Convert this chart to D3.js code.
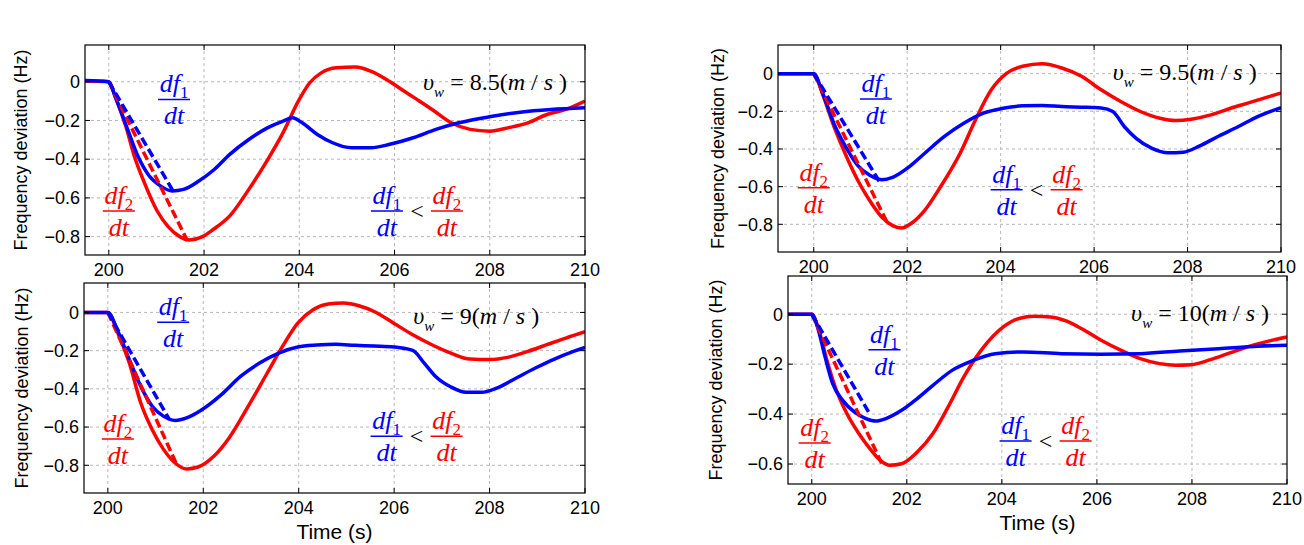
<!DOCTYPE html>
<html>
<head>
<meta charset="utf-8">
<title>Frequency deviation for four wind speeds</title>
<script src="https://d3js.org/d3.v7.min.js"></script>
<style>
  body { margin: 0; background: #fff; }
  svg { display: block; background: #fff; }
  .tickLabel { font-family: Arial, "Liberation Sans", sans-serif; font-size: 18px; fill: #000; }
  .axisTitle { font-family: Arial, "Liberation Sans", sans-serif; fill: #000; }
  .math { font-family: "Times New Roman", "Liberation Serif", serif; }
  .grid { stroke: #b8b8b8; stroke-width: 1; stroke-dasharray: 3,3; }
  .frame { fill: none; stroke: #000; stroke-width: 1.2; }
</style>
</head>
<body>
<svg id="chart" width="1304" height="545"></svg>
<script>
// ---- data ----
const windSpeeds = ["8.5", "9", "9.5", "10"];
const timeTicks = [200, 202, 204, 206, 208, 210];
const devTicks = [
  [0, -0.2, -0.4, -0.6, -0.8],
  [0, -0.2, -0.4, -0.6, -0.8],
  [0, -0.2, -0.4, -0.6, -0.8],
  [0, -0.2, -0.4, -0.6]
];
const timeDomains = [[199.5, 210], [199.5, 210], [199.235, 210], [199.5, 210]];
const devDomains = [[-0.895, 0.19], [-0.945, 0.154], [-0.947, 0.152], [-0.68, 0.153]];

// blue = df1/dt case, red = df2/dt case; [time (s), deviation (Hz)]
const blue85 = [[199.5,0.006],[200,0],[200.13,-0.074],[200.37,-0.229],[200.61,-0.384],[200.85,-0.487],
  [201.09,-0.539],[201.33,-0.564],[201.57,-0.556],[201.89,-0.513],[202.22,-0.452],[202.54,-0.375],
  [202.94,-0.298],[203.34,-0.237],[203.66,-0.203],[203.86,-0.186],[204.06,-0.212],[204.38,-0.272],
  [204.7,-0.315],[205.1,-0.341],[205.5,-0.341],[205.9,-0.323],[206.39,-0.289],[206.87,-0.246],
  [207.35,-0.212],[207.99,-0.181],[208.64,-0.157],[209.28,-0.143],[210,-0.134]];
const red85 = [[199.5,0.004],[200,0],[200.13,-0.074],[200.37,-0.24],[200.53,-0.38],[200.77,-0.535],
  [201.01,-0.665],[201.25,-0.75],[201.49,-0.8],[201.69,-0.817],[201.97,-0.8],[202.2,-0.762],
  [202.54,-0.693],[202.94,-0.556],[203.34,-0.401],[203.66,-0.263],[203.98,-0.1],[204.22,-0.005],
  [204.46,0.046],[204.78,0.072],[205.18,0.076],[205.5,0.055],[205.83,0.012],[206.15,-0.04],
  [206.47,-0.091],[206.79,-0.143],[207.19,-0.212],[207.59,-0.246],[208,-0.255],[208.4,-0.237],
  [208.8,-0.212],[209.2,-0.169],[209.6,-0.143],[210,-0.1]];
const blueSlope85 = [[200,0],[201.37,-0.573]];
const redSlope85 = [[200,0],[201.65,-0.822]];

const blue9 = [[199.5,0],[200,0],[200.21,-0.099],[200.45,-0.247],[200.69,-0.387],[200.93,-0.491],
  [201.17,-0.544],[201.41,-0.565],[201.65,-0.552],[201.97,-0.509],[202.38,-0.43],[202.78,-0.335],
  [203.18,-0.265],[203.58,-0.213],[203.98,-0.181],[204.38,-0.171],[204.78,-0.167],[205.18,-0.172],
  [205.58,-0.176],[205.99,-0.181],[206.39,-0.199],[206.63,-0.265],[206.87,-0.335],[207.19,-0.39],
  [207.51,-0.418],[207.83,-0.418],[208.15,-0.396],[208.56,-0.343],[208.96,-0.291],[209.36,-0.244],
  [209.76,-0.204],[210,-0.183]];
const red9 = [[199.5,0],[200,0],[200.21,-0.108],[200.45,-0.265],[200.69,-0.474],[200.93,-0.614],
  [201.17,-0.718],[201.41,-0.788],[201.65,-0.819],[201.89,-0.809],[202.22,-0.753],[202.54,-0.657],
  [202.94,-0.492],[203.34,-0.317],[203.66,-0.178],[203.98,-0.056],[204.3,0.014],[204.62,0.044],
  [204.94,0.049],[205.26,0.035],[205.58,0.005],[205.99,-0.056],[206.39,-0.117],[206.79,-0.169],
  [207.19,-0.213],[207.59,-0.244],[208,-0.247],[208.4,-0.234],[208.8,-0.204],[209.2,-0.169],
  [209.6,-0.134],[210,-0.101]];
const blueSlope9 = [[200,0],[201.29,-0.561]];
const redSlope9 = [[200,0],[201.45,-0.8]];

const blue95 = [[199.235,0],[200,0],[200.19,-0.103],[200.44,-0.27],[200.7,-0.395],[200.95,-0.49],
  [201.2,-0.54],[201.45,-0.563],[201.7,-0.549],[202.04,-0.495],[202.37,-0.424],[202.79,-0.335],
  [203.21,-0.264],[203.63,-0.21],[204.05,-0.184],[204.47,-0.171],[204.89,-0.169],[205.31,-0.175],
  [205.73,-0.178],[206.15,-0.182],[206.4,-0.201],[206.65,-0.282],[206.9,-0.344],[207.24,-0.397],
  [207.58,-0.42],[207.91,-0.417],[208.25,-0.385],[208.67,-0.331],[209.09,-0.281],[209.5,-0.228],
  [210,-0.18]];
const red95 = [[199.235,0],[200,0],[200.19,-0.11],[200.44,-0.285],[200.7,-0.44],[200.95,-0.57],
  [201.2,-0.675],[201.45,-0.76],[201.7,-0.808],[201.87,-0.82],[202.12,-0.789],[202.37,-0.727],
  [202.71,-0.602],[203.13,-0.424],[203.46,-0.246],[203.8,-0.086],[204.14,0.004],[204.47,0.039],
  [204.89,0.052],[205.31,0.03],[205.73,-0.014],[206.15,-0.086],[206.57,-0.148],[206.99,-0.201],
  [207.41,-0.237],[207.74,-0.249],[208.08,-0.242],[208.5,-0.219],[208.92,-0.184],[209.34,-0.153],
  [209.76,-0.121],[210,-0.103]];
const blueSlope95 = [[200,0],[201.41,-0.575]];
const redSlope95 = [[200,0],[201.58,-0.795]];

const blue10 = [[199.5,0],[200,0],[200.12,-0.051],[200.28,-0.171],[200.44,-0.278],[200.65,-0.345],
  [200.9,-0.392],[201.14,-0.418],[201.35,-0.428],[201.56,-0.418],[201.89,-0.385],[202.22,-0.338],
  [202.55,-0.285],[202.96,-0.224],[203.37,-0.187],[203.86,-0.158],[204.44,-0.151],[205.26,-0.158],
  [206.09,-0.16],[206.91,-0.158],[207.74,-0.147],[208.56,-0.138],[209.39,-0.128],[210,-0.124]];
const red10 = [[199.5,0],[200,0],[200.16,-0.07],[200.32,-0.185],[200.49,-0.29],[200.73,-0.395],
  [200.98,-0.475],[201.23,-0.54],[201.47,-0.59],[201.64,-0.605],[201.89,-0.599],[202.22,-0.552],
  [202.55,-0.478],[202.87,-0.371],[203.2,-0.251],[203.62,-0.131],[204.03,-0.051],[204.36,-0.017],
  [204.69,-0.008],[205.02,-0.011],[205.35,-0.027],[205.68,-0.058],[206.09,-0.104],[206.5,-0.144],
  [206.91,-0.178],[207.32,-0.198],[207.65,-0.204],[207.98,-0.202],[208.39,-0.182],[208.8,-0.155],
  [209.22,-0.128],[209.63,-0.107],[210,-0.091]];
const blueSlope10 = [[200,0],[201.23,-0.403]];
const redSlope10 = [[200,0],[201.47,-0.597]];

const blueSeries = [blue85, blue9, blue95, blue10];
const redSeries = [red85, red9, red95, red10];
const blueSlopes = [blueSlope85, blueSlope9, blueSlope95, blueSlope10];
const redSlopes = [redSlope85, redSlope9, redSlope95, redSlope10];

// ---- layout (pixels) ----
const frames = [
  { left: 85, top: 45, right: 585, bottom: 255, yTitleX: 21, xTitle: false },
  { left: 84, top: 283, right: 585, bottom: 493, yTitleX: 22, xTitle: true },
  { left: 778, top: 45, right: 1281, bottom: 252, yTitleX: 718, xTitle: false },
  { left: 788, top: 276, right: 1287, bottom: 484, yTitleX: 716, xTitle: true }
];
// annotation anchors in data units: [time, deviation]
const blueLabelAt = [[201.37, -0.091], [201.37, -0.051], [201.33, -0.135], [201.53, -0.142]];
const redLabelAt = [[200.21, -0.668], [200.21, -0.662], [200.0, -0.606], [200.06, -0.516]];
const compareAt = [[206.47, -0.668], [206.47, -0.648], [204.77, -0.616], [204.92, -0.508]];
const speedAt = [[206.6, 0], [206.4, -0.02], [206.4, 0.007], [206.72, 0.003]];

const BLUE = "#0000ff", RED = "#ff0000";
const svg = d3.select("#chart");

function fraction(g, cx, cy, sub, color) {
  const grp = g.append("g").attr("class", "math").attr("fill", color);
  const num = grp.append("text")
    .attr("x", cx).attr("y", cy - 7)
    .attr("text-anchor", "middle")
    .style("font-size", "26px");
  num.append("tspan").style("font-style", "italic").text("df");
  num.append("tspan").style("font-size", "17px").attr("dy", 6).text(sub);
  grp.append("line")
    .attr("x1", cx - 16).attr("x2", cx + 16)
    .attr("y1", cy).attr("y2", cy)
    .attr("stroke", color).attr("stroke-width", 1.5);
  grp.append("text")
    .attr("x", cx).attr("y", cy + 25)
    .attr("text-anchor", "middle")
    .style("font-size", "26px").style("font-style", "italic")
    .text("dt");
}

frames.forEach(function(fr, i) {
  const x = d3.scaleLinear().domain(timeDomains[i]).range([fr.left, fr.right]);
  const y = d3.scaleLinear().domain(devDomains[i]).range([fr.bottom, fr.top]);
  const g = svg.append("g");

  // grid
  g.selectAll(".gx").data(timeTicks.filter(function(t) { return x(t) < fr.right - 1; }))
    .enter().append("line").attr("class", "grid")
    .attr("x1", function(d) { return x(d); }).attr("x2", function(d) { return x(d); })
    .attr("y1", fr.top).attr("y2", fr.bottom);
  g.selectAll(".gy").data(devTicks[i])
    .enter().append("line").attr("class", "grid")
    .attr("y1", function(d) { return y(d); }).attr("y2", function(d) { return y(d); })
    .attr("x1", fr.left).attr("x2", fr.right);

  // curves
  const smooth = d3.line().x(function(d) { return x(d[0]); }).y(function(d) { return y(d[1]); })
    .curve(d3.curveMonotoneX);
  const straight = d3.line().x(function(d) { return x(d[0]); }).y(function(d) { return y(d[1]); });
  const clipId = "clip" + i;
  svg.append("clipPath").attr("id", clipId).append("rect")
    .attr("x", fr.left).attr("y", fr.top)
    .attr("width", fr.right - fr.left).attr("height", fr.bottom - fr.top);
  const plot = g.append("g").attr("clip-path", "url(#" + clipId + ")");
  plot.append("path").attr("d", smooth(redSeries[i]))
    .attr("fill", "none").attr("stroke", RED).attr("stroke-width", 3.5);
  plot.append("path").attr("d", smooth(blueSeries[i]))
    .attr("fill", "none").attr("stroke", BLUE).attr("stroke-width", 3.5);
  plot.append("path").attr("d", straight(redSlopes[i]))
    .attr("fill", "none").attr("stroke", RED).attr("stroke-width", 3.5).attr("stroke-dasharray", "9,4");
  plot.append("path").attr("d", straight(blueSlopes[i]))
    .attr("fill", "none").attr("stroke", BLUE).attr("stroke-width", 3.5).attr("stroke-dasharray", "9,4");

  // frame and inward ticks
  g.append("rect").attr("class", "frame")
    .attr("x", fr.left).attr("y", fr.top)
    .attr("width", fr.right - fr.left).attr("height", fr.bottom - fr.top);
  timeTicks.forEach(function(t) {
    g.append("line").attr("x1", x(t)).attr("x2", x(t)).attr("y1", fr.bottom).attr("y2", fr.bottom - 5).attr("stroke", "#000");
    g.append("line").attr("x1", x(t)).attr("x2", x(t)).attr("y1", fr.top).attr("y2", fr.top + 5).attr("stroke", "#000");
  });
  devTicks[i].forEach(function(v) {
    g.append("line").attr("x1", fr.left).attr("x2", fr.left + 5).attr("y1", y(v)).attr("y2", y(v)).attr("stroke", "#000");
    g.append("line").attr("x1", fr.right).attr("x2", fr.right - 5).attr("y1", y(v)).attr("y2", y(v)).attr("stroke", "#000");
  });

  // tick labels
  g.selectAll(".xl").data(timeTicks).enter().append("text").attr("class", "tickLabel")
    .attr("x", function(d) { return x(d); }).attr("y", fr.bottom + 21)
    .attr("text-anchor", "middle").text(function(d) { return d; });
  g.selectAll(".yl").data(devTicks[i]).enter().append("text").attr("class", "tickLabel")
    .attr("x", fr.left - 5).attr("y", function(d) { return y(d); }).attr("dy", "0.35em")
    .attr("text-anchor", "end").text(function(d) { return d === 0 ? "0" : d3.format(".1f")(d); });

  // axis titles
  g.append("text").attr("class", "axisTitle").style("font-size", "18px")
    .attr("transform", "translate(" + fr.yTitleX + "," + ((fr.top + fr.bottom) / 2) + ") rotate(-90)")
    .attr("text-anchor", "middle").attr("dy", "0.35em")
    .text("Frequency deviation (Hz)");
  if (fr.xTitle) {
    g.append("text").attr("class", "axisTitle").style("font-size", "21px")
      .attr("x", (fr.left + fr.right) / 2).attr("y", fr.bottom + 46)
      .attr("text-anchor", "middle").text("Time (s)");
  }

  // annotations
  fraction(g, x(blueLabelAt[i][0]), y(blueLabelAt[i][1]), "1", BLUE);
  fraction(g, x(redLabelAt[i][0]), y(redLabelAt[i][1]), "2", RED);
  const cx = x(compareAt[i][0]), cy = y(compareAt[i][1]);
  fraction(g, cx - 30, cy, "1", BLUE);
  g.append("text").attr("class", "math").attr("x", cx).attr("y", cy + 8)
    .attr("text-anchor", "middle").style("font-size", "24px").text("<");
  fraction(g, cx + 30, cy, "2", RED);

  const sp = g.append("text").attr("class", "math")
    .attr("x", x(speedAt[i][0])).attr("y", y(speedAt[i][1]) + 8)
    .style("font-size", "24px");
  sp.append("tspan").style("font-style", "italic").text("\u03c5");
  sp.append("tspan").style("font-style", "italic").style("font-size", "15px").attr("dy", 7).text("w");
  sp.append("tspan").attr("dy", -7).text(" = " + windSpeeds[i] + "(");
  sp.append("tspan").style("font-style", "italic").text("m");
  sp.append("tspan").text(" / ");
  sp.append("tspan").style("font-style", "italic").text("s");
  sp.append("tspan").text(" )");
});
</script>
</body>
</html>
